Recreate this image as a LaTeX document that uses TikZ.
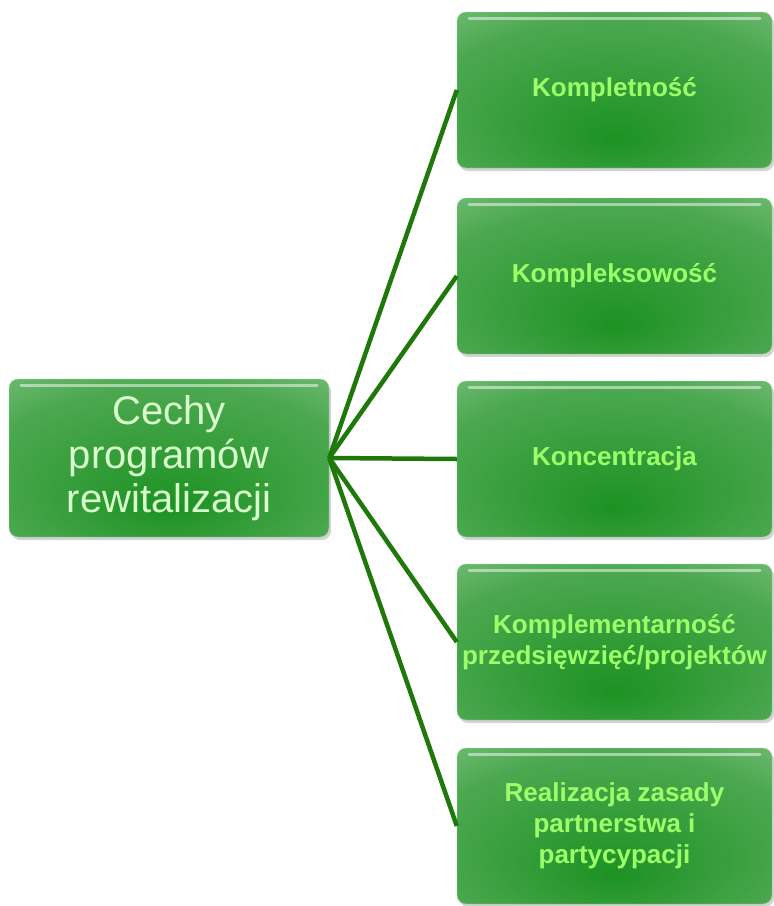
\documentclass[tikz,border=0pt]{standalone}
\usepackage{fontspec}
\setmainfont{Liberation Sans}
\usepackage{tikz}
\usetikzlibrary{shadows,calc}
\definecolor{boxin}{HTML}{1C9222}
\definecolor{boxmid}{HTML}{4CA850}
\definecolor{boxout}{HTML}{A8D8A8}
\definecolor{linegreen}{HTML}{1F780A}
\definecolor{txtgreen}{HTML}{9CFF6A}
\definecolor{txtpale}{HTML}{D8FFCC}
\pgfdeclareradialshading{boxshade}{\pgfpoint{0bp}{-16bp}}{color(0bp)=(boxin); color(30bp)=(boxmid); color(56bp)=(boxout)}

\begin{document}
\begin{tikzpicture}[x=1pt,y=-1pt,
  box/.style={rectangle,rounded corners=9pt,shading=boxshade,draw=boxout,
    drop shadow={opacity=0.35,shadow xshift=2pt,shadow yshift=-3pt},
    align=center,inner sep=0pt,
    path picture={\draw[white,opacity=0.5,line width=3pt,line cap=round]
      ($(path picture bounding box.north west)+(12,6)$) --
      ($(path picture bounding box.north east)+(-12,6)$);}},
  main/.style={box,minimum width=320pt,minimum height=158pt,text=txtpale,
    font=\fontsize{40}{44}\selectfont},
  leaf/.style={box,minimum width=315pt,minimum height=156pt,text=txtgreen,
    font=\bfseries\fontsize{26}{31}\selectfont}]
\useasboundingbox (0,0) rectangle (774,906);
\node[main] (A) at (169,458) {Cechy\\programów\\rewitalizacji};
\node[leaf] (B) at (614.5,90) {Kompletność};
\node[leaf] (C) at (614.5,276) {Kompleksowość};
\node[leaf] (D) at (614.5,459) {Koncentracja};
\node[leaf] (E) at (614.5,642) {Komplementarność\\przedsięwzięć/projektów};
\node[leaf] (F) at (614.5,826) {Realizacja zasady\\partnerstwa i\\partycypacji};
\path[draw=linegreen,line width=4.5pt]
(A.east) edge (B.west)
(A.east) edge (C.west)
(A.east) edge (D.west)
(A.east) edge (E.west)
(A.east) edge (F.west);
\end{tikzpicture}
\end{document}
